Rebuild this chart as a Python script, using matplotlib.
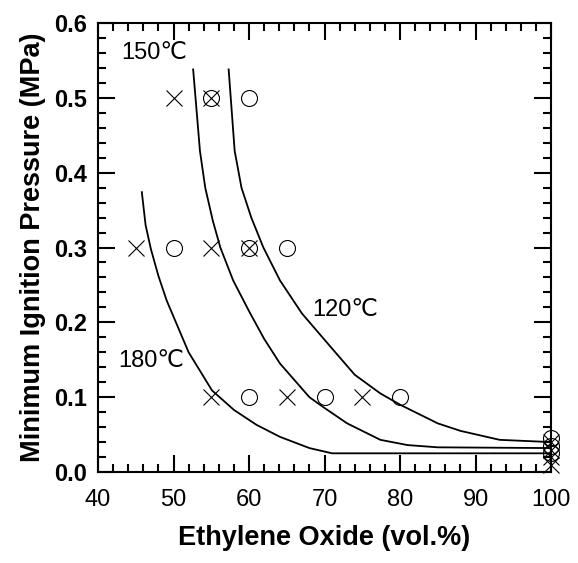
import matplotlib
matplotlib.use("Agg")
import matplotlib.pyplot as plt
from matplotlib.ticker import MultipleLocator, FormatStrFormatter

plt.rcParams["font.family"] = ["Liberation Sans", "DejaVu Sans"]

# measured points (x marks = ignition, circles = no ignition)
cross_x = [50, 55, 45, 55, 60, 55, 65, 75, 100, 100, 100, 100]
cross_y = [0.5, 0.5, 0.3, 0.3, 0.3, 0.1, 0.1, 0.1, 0.04, 0.03, 0.02, 0.01]
circle_x = [55, 60, 50, 60, 65, 60, 70, 80, 100, 100, 100]
circle_y = [0.5, 0.5, 0.3, 0.3, 0.3, 0.1, 0.1, 0.1, 0.045, 0.035, 0.025]

# boundary curves
c180_x = [45.8, 46.3, 47.0, 48.0, 49.1, 52.0, 55.1, 58.0, 61.0, 64.1, 68.0, 71.0, 100]
c180_y = [0.374, 0.330, 0.298, 0.262, 0.229, 0.160, 0.109, 0.083, 0.063, 0.047, 0.032, 0.025, 0.025]
c150_x = [52.6, 53.5, 54.2, 55.2, 56.2, 57.9, 60.0, 62.0, 64.1, 68.0, 69.8, 73.0, 77.4, 81.0, 85.0, 100]
c150_y = [0.538, 0.429, 0.380, 0.336, 0.300, 0.256, 0.215, 0.178, 0.145, 0.100, 0.087, 0.065, 0.043, 0.036, 0.033, 0.032]
c120_x = [57.3, 58.1, 59.0, 60.3, 61.9, 64.1, 67.0, 71.0, 74.0, 77.4, 80.0, 85.0, 88.0, 93.2, 100]
c120_y = [0.538, 0.429, 0.380, 0.340, 0.300, 0.256, 0.212, 0.165, 0.130, 0.105, 0.090, 0.065, 0.055, 0.043, 0.040]

labels = ["150\u2103", "120\u2103", "180\u2103"]
label_x = [47.5, 72.7, 47.0]
label_y = [0.56, 0.216, 0.149]

fig = plt.figure(figsize=(5.78, 5.63), dpi=100)
ax = fig.add_axes([0.1696, 0.1616, 0.7837, 0.7975])

for cx, cy in [(c180_x, c180_y), (c150_x, c150_y), (c120_x, c120_y)]:
	ax.plot(cx, cy, color="black", linewidth=1.3, clip_on=False)

ax.plot(circle_x, circle_y, linestyle="none", marker="o", markersize=11.5,
	markerfacecolor="none", markeredgecolor="black", markeredgewidth=0.8, clip_on=False)
ax.plot(cross_x, cross_y, linestyle="none", marker="x", markersize=11,
	markeredgecolor="black", markeredgewidth=0.8, clip_on=False)

for text, tx, ty in zip(labels, label_x, label_y):
	ax.text(tx, ty, text, fontsize=17, ha="center", va="center")

ax.set_xlim(40, 100)
ax.set_ylim(0, 0.6)
ax.xaxis.set_major_locator(MultipleLocator(10))
ax.xaxis.set_minor_locator(MultipleLocator(2))
ax.yaxis.set_major_locator(MultipleLocator(0.1))
ax.yaxis.set_minor_locator(MultipleLocator(0.02))
ax.yaxis.set_major_formatter(FormatStrFormatter("%.1f"))

ax.tick_params(which="both", direction="in", top=True, right=True, width=1.5)
ax.tick_params(which="major", length=12)
ax.tick_params(which="minor", length=6)
ax.tick_params(axis="x", which="major", labelsize=17, pad=12)
ax.tick_params(axis="y", which="major", labelsize=17, pad=8)
for lab in ax.get_yticklabels():
	lab.set_fontweight("bold")
for spine in ax.spines.values():
	spine.set_linewidth(1.5)

ax.set_xlabel("Ethylene Oxide (vol.%)", fontsize=19.5, fontweight="bold", labelpad=10)
ax.set_ylabel("Minimum Ignition Pressure (MPa)", fontsize=19.5, fontweight="bold", labelpad=6)

fig.savefig("out.png", dpi=100)
